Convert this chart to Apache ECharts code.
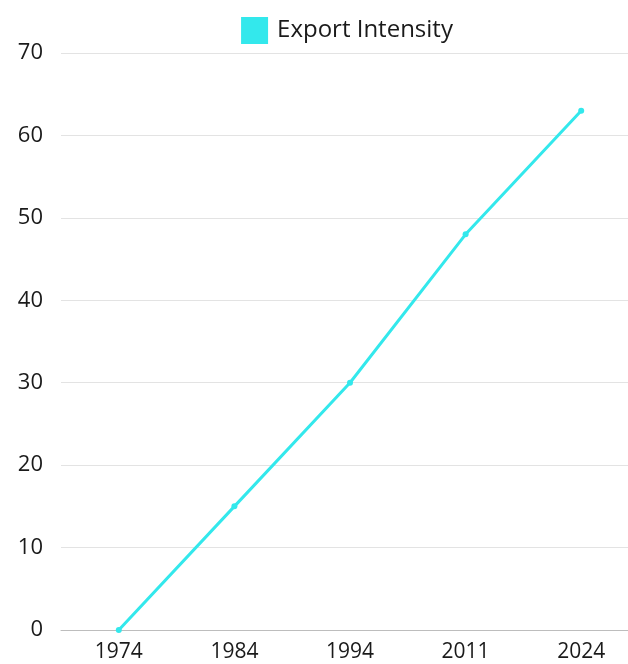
<!DOCTYPE html>
<html>
<head>
<meta charset="utf-8">
<script src="https://cdn.jsdelivr.net/npm/echarts@6/dist/echarts.min.js"></script>
<style>
  html, body { margin: 0; padding: 0; background: #fff; overflow: hidden; }
  #wrap { width: 628px; height: 664px; overflow: hidden; }
  #chart { width: 694px; height: 664px; }
</style>
</head>
<body>
<div id="wrap"><div id="chart"></div></div>
<script>
// Years on the horizontal axis
const years = ['1974', '1984', '1994', '2011', '2024'];
// Export intensity per year
const exportIntensity = [0, 15, 30, 48, 63];
const seriesName = 'Export Intensity';

const chart = echarts.init(document.getElementById('chart'), null, { renderer: 'canvas' });

const textFont = '"Open Sans", "Noto Sans", sans-serif';
const lineColor = '#33e8ec';

chart.setOption({
  animation: false,
  backgroundColor: '#ffffff',
  legend: {
    data: [seriesName],
    top: 12,
    left: 'center',
    itemWidth: 27,
    itemHeight: 27,
    icon: 'rect',
    textStyle: { fontSize: 24, color: '#1a1a1a', fontFamily: textFont, padding: [0, 0, 0, 4] }
  },
  grid: { left: 61, top: 53, right: 55, bottom: 34, containLabel: false },
  xAxis: {
    type: 'category',
    data: years,
    boundaryGap: true,
    axisLine: { show: true, lineStyle: { color: '#bdbdbd', width: 1 } },
    axisTick: { show: false },
    axisLabel: { fontSize: 21, color: '#1a1a1a', margin: 12, fontFamily: textFont }
  },
  yAxis: {
    type: 'value',
    min: 0,
    max: 70,
    interval: 10,
    axisLine: { show: false },
    axisTick: { show: false },
    splitLine: { lineStyle: { color: '#e3e3e3', width: 1 } },
    axisLabel: { fontSize: 22, color: '#1a1a1a', margin: 18, fontFamily: textFont }
  },
  series: [{
    name: seriesName,
    type: 'line',
    data: exportIntensity,
    color: lineColor,
    symbol: 'circle',
    symbolSize: 6,
    lineStyle: { width: 3, color: lineColor },
    itemStyle: { color: lineColor }
  }]
});
</script>
</body>
</html>
